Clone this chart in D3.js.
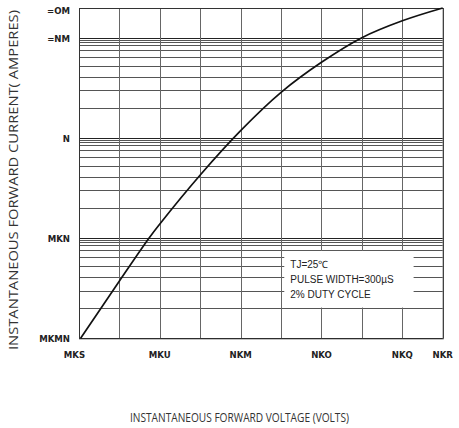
<!DOCTYPE html>
<html>
<head>
<meta charset="utf-8">
<script src="https://cdn.jsdelivr.net/npm/d3@7"></script>
<style>
  body { margin: 0; background: #fff; }
  .tick-label { font-family: "Liberation Sans Narrow", "DejaVu Sans Condensed", sans-serif; font-weight: bold; font-size: 9.5px; fill: #222; }
  .title { font-family: "Open Sans", "DejaVu Sans", sans-serif; font-size: 12.5px; fill: #333; }
  .note { font-family: "Liberation Sans", Arial, sans-serif; font-size: 10px; fill: #222; }
</style>
</head>
<body>
<div id="chart"></div>
<script>
// forward voltage (V) vs instantaneous forward current (A)
const voltage = [0.604, 0.7, 0.773, 0.8, 0.9, 1.0, 1.1, 1.2, 1.3, 1.4, 1.5];
const current = [0.01, 0.0374, 0.1, 0.139, 0.429, 1.19, 2.87, 5.73, 10.1, 14.9, 20];

// vertical grid every 0.1 V
const xGrid = [0.6, 0.7, 0.8, 0.9, 1.0, 1.1, 1.2, 1.3, 1.4, 1.5];
const xTicks = [0.6, 0.8, 1.0, 1.2, 1.4, 1.5];
const xTickLabels = ['MKS', 'MKU', 'NKM', 'NKO', 'NKQ', 'NKR'];

// horizontal grid: decades plus the minor lines drawn inside each one
const decades = [0.01, 0.1, 1, 10];
const minorSteps = [2, 3, 4.1, 5.3, 6.5, 7.6, 8.5, 9.15, 9.55];
const yTicks = [20, 10, 1, 0.1, 0.01];
const yTickLabels = ['=OM', '=NM', 'N', 'MKN', 'MKMN'];

const noteLines = ['TJ=25\u2103', 'PULSE WIDTH=300\u00b5S', '2% DUTY CYCLE'];
const noteBox = {v0: 1.108, v1: 1.428, i0: 0.0203, i1: 0.0746};

const width = 459, height = 428;
const margin = {top: 8, right: 16.3, bottom: 89.7, left: 79};

const svg = d3.select('#chart')
    .append('svg')
    .attr('width', width)
    .attr('height', height);

const x = d3.scaleLinear()
    .domain([0.6, 1.5])
    .range([margin.left, width - margin.right]);
const y = d3.scaleLog()
    .domain([0.01, 20])
    .range([height - margin.bottom, margin.top]);

// grid
const hLines = [];
decades.forEach(d => {
    hLines.push({v: d, major: true});
    minorSteps.forEach(m => hLines.push({v: d * m, major: false}));
});

svg.append('g')
    .attr('class', 'hgrid')
    .selectAll('line')
    .data(hLines)
    .join('line')
    .attr('x1', x(0.6))
    .attr('x2', x(1.5))
    .attr('y1', d => Math.round(y(d.v)) + 0.5)
    .attr('y2', d => Math.round(y(d.v)) + 0.5)
    .attr('stroke', d => d.major ? '#222' : '#555')
    .attr('stroke-width', 1);

svg.append('g')
    .attr('class', 'vgrid')
    .selectAll('line')
    .data(xGrid)
    .join('line')
    .attr('x1', d => Math.round(x(d)) + 0.5)
    .attr('x2', d => Math.round(x(d)) + 0.5)
    .attr('y1', y(20))
    .attr('y2', y(0.01))
    .attr('stroke', '#666')
    .attr('stroke-width', 1);

// frame
svg.append('rect')
    .attr('x', x(0.6) + 0.5)
    .attr('y', y(20) + 0.5)
    .attr('width', x(1.5) - x(0.6))
    .attr('height', y(0.01) - y(20))
    .attr('fill', 'none')
    .attr('stroke', '#333')
    .attr('stroke-width', 1);

// note box blanks the grid
svg.append('rect')
    .attr('x', x(noteBox.v0))
    .attr('y', y(noteBox.i1))
    .attr('width', x(noteBox.v1) - x(noteBox.v0))
    .attr('height', y(noteBox.i0) - y(noteBox.i1))
    .attr('fill', '#fff');

svg.append('g')
    .selectAll('text')
    .data(noteLines)
    .join('text')
    .attr('class', 'note')
    .attr('x', x(noteBox.v0) + 6)
    .attr('y', (d, i) => y(noteBox.i1) + 17 + i * 15.2)
    .text(d => d);

// curve
const pts = voltage.map((v, i) => [v, current[i]]);
const line = d3.line()
    .x(d => x(d[0]))
    .y(d => y(d[1]))
    .curve(d3.curveCatmullRom.alpha(0.5));

svg.append('path')
    .datum(pts)
    .attr('d', line)
    .attr('fill', 'none')
    .attr('stroke', '#111')
    .attr('stroke-width', 1.7);

// tick labels
svg.append('g')
    .selectAll('text')
    .data(yTicks)
    .join('text')
    .attr('class', 'tick-label')
    .attr('text-anchor', 'end')
    .attr('x', 70)
    .attr('y', d => Math.max(y(d) + 3.5, 14))
    .text((d, i) => yTickLabels[i]);

svg.append('g')
    .selectAll('text')
    .data(xTicks)
    .join('text')
    .attr('class', 'tick-label')
    .attr('text-anchor', 'middle')
    .attr('x', (d, i) => x(d) - (i === 0 ? 4.5 : 0))
    .attr('y', 358)
    .text((d, i) => xTickLabels[i]);

// axis titles
svg.append('text')
    .attr('class', 'title')
    .attr('text-anchor', 'middle')
    .attr('x', 239.5)
    .attr('y', 421.5)
    .attr('textLength', 219)
    .attr('lengthAdjust', 'spacingAndGlyphs')
    .text('INSTANTANEOUS FORWARD VOLTAGE (VOLTS)');

svg.append('text')
    .attr('class', 'title')
    .attr('text-anchor', 'middle')
    .attr('transform', 'translate(18.3,180) rotate(-90)')
    .attr('textLength', 340)
    .attr('lengthAdjust', 'spacingAndGlyphs')
    .text('INSTANTANEOUS FORWARD CURRENT( AMPERES)');
</script>
</body>
</html>
